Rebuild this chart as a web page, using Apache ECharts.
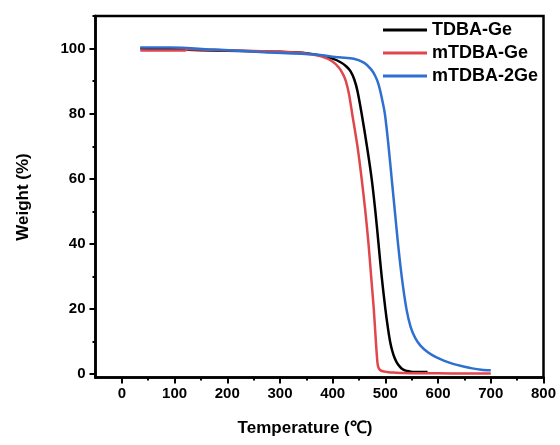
<!DOCTYPE html>
<html>
<head>
<meta charset="utf-8">
<script src="https://cdn.jsdelivr.net/npm/echarts@6/dist/echarts.min.js"></script>
<style>html,body{margin:0;padding:0;background:#fff}#c{width:560px;height:445px}</style>
</head>
<body>
<div id="c"></div>
<script>
var seriesNames = ['TDBA-Ge', 'mTDBA-Ge', 'mTDBA-2Ge'];
var xLabels = [0, 100, 200, 300, 400, 500, 600, 700, 800];
var xMinor = [50, 150, 250, 350, 450, 550, 650, 750];
var yLabels = [0, 20, 40, 60, 80, 100];
var yMinor = [10, 30, 50, 70, 90, 110];

var tdbaT = [35, 100, 150, 200, 250, 300, 350, 380, 400, 415, 426, 434, 441, 447, 455, 465, 474, 481, 487, 493, 500, 505, 509, 513, 517, 522, 527, 532, 537, 545, 555, 565, 580];
var tdbaW = [100, 99.8, 99.5, 99.3, 99.2, 99, 98.6, 97.8, 96.9, 95.8, 94.5, 93, 90.5, 87, 80, 70, 60, 50, 40, 30, 20, 14, 10, 7.2, 5.2, 3.5, 2.4, 1.6, 1.2, 0.9, 0.7, 0.7, 0.7];

var mT = [35, 120, 125, 200, 300, 350, 378, 399, 412, 420, 425, 431, 437, 447, 455, 462, 468, 473, 478, 482, 485, 487, 490, 495, 503, 515, 530, 560, 600, 650, 700];
var mW = [99.4, 99.4, 99.8, 99.5, 99, 98.5, 97.6, 96.1, 94.1, 92, 90, 86, 80, 70, 60, 50, 40, 30, 20, 10, 3.5, 2, 1.3, 0.9, 0.7, 0.5, 0.4, 0.3, 0.3, 0.2, 0.2];

var m2T = [35, 90, 175, 270, 365, 412, 440, 460, 473, 481, 487, 493, 499, 506, 512, 518, 524, 531, 540, 548, 557, 567, 580, 595, 612, 630, 648, 665, 682, 700];
var m2W = [100.3, 100.3, 99.7, 98.9, 98.2, 97.3, 96.9, 95.6, 93.6, 91.5, 89, 85, 80, 70, 60, 50, 40, 30, 20, 14.5, 11, 8.7, 6.8, 5.3, 4.1, 3.1, 2.4, 1.8, 1.4, 1.2];

function pairs(a, b) { return a.map(function (v, i) { return [v, b[i]]; }); }

var FONT = 'Liberation Sans';
var chart = echarts.init(document.getElementById('c'), null, { renderer: 'canvas' });
var tickStyle = { color: '#000', width: 2 };
chart.setOption({
  animation: false,
  backgroundColor: '#fff',
  grid: { left: 95.5, right: 16.5, top: 16, bottom: 67.5, show: true, borderColor: '#000', borderWidth: 2.5, containLabel: false },
  legend: {
    orient: 'vertical', left: 383, top: 20, padding: 0, itemGap: 3,
    itemWidth: 44, itemHeight: 3, icon: 'rect',
    data: seriesNames,
    textStyle: { fontFamily: FONT, fontSize: 18, fontWeight: 'bold', color: '#000', lineHeight: 20 }
  },
  xAxis: [{
    type: 'value', min: -50, max: 800, position: 'bottom',
    axisLine: { show: true, onZero: false, lineStyle: { color: '#000', width: 2.5 } },
    axisTick: { show: true, inside: false, length: 6, lineStyle: tickStyle, customValues: xLabels },
    axisLabel: { customValues: xLabels, margin: 9, fontFamily: FONT, fontSize: 15, fontWeight: 'bold', color: '#000' },
    splitLine: { show: false }
  }, {
    type: 'value', min: -50, max: 800, position: 'bottom',
    axisLine: { show: false, onZero: false },
    axisTick: { show: true, inside: false, length: 3, lineStyle: tickStyle, customValues: xMinor },
    axisLabel: { show: false },
    splitLine: { show: false }
  }],
  yAxis: [{
    type: 'value', min: -1, max: 110, position: 'left',
    axisLine: { show: true, onZero: false, lineStyle: { color: '#000', width: 2.5 } },
    axisTick: { show: true, inside: false, length: 6, lineStyle: tickStyle, customValues: yLabels },
    axisLabel: { customValues: yLabels, margin: 10, fontFamily: FONT, fontSize: 15, fontWeight: 'bold', color: '#000' },
    splitLine: { show: false }
  }, {
    type: 'value', min: -1, max: 110, position: 'left',
    axisLine: { show: false, onZero: false },
    axisTick: { show: true, inside: false, length: 3, lineStyle: tickStyle, customValues: yMinor },
    axisLabel: { show: false },
    splitLine: { show: false }
  }],
  graphic: [
    { type: 'text', position: [305, 428], style: { text: 'Temperature (\u2103)', fontFamily: FONT, fontSize: 17, fontWeight: 'bold', fill: '#000', textAlign: 'center', textVerticalAlign: 'middle' } },
    { type: 'text', position: [23, 197], rotation: Math.PI / 2, style: { text: 'Weight (%)', fontFamily: FONT, fontSize: 17, fontWeight: 'bold', fill: '#000', textAlign: 'center', textVerticalAlign: 'middle' } }
  ],
  series: [
    { name: seriesNames[0], type: 'line', data: pairs(tdbaT, tdbaW), symbol: 'none', smooth: 0.3, color: '#000000', lineStyle: { width: 2.5, color: '#000000' }, z: 2 },
    { name: seriesNames[1], type: 'line', data: pairs(mT, mW), symbol: 'none', smooth: 0.3, color: '#e0474d', lineStyle: { width: 2.5, color: '#e0474d' }, z: 3 },
    { name: seriesNames[2], type: 'line', data: pairs(m2T, m2W), symbol: 'none', smooth: 0.3, color: '#2f6fd0', lineStyle: { width: 2.5, color: '#2f6fd0' }, z: 4 }
  ]
});
</script>
</body>
</html>
